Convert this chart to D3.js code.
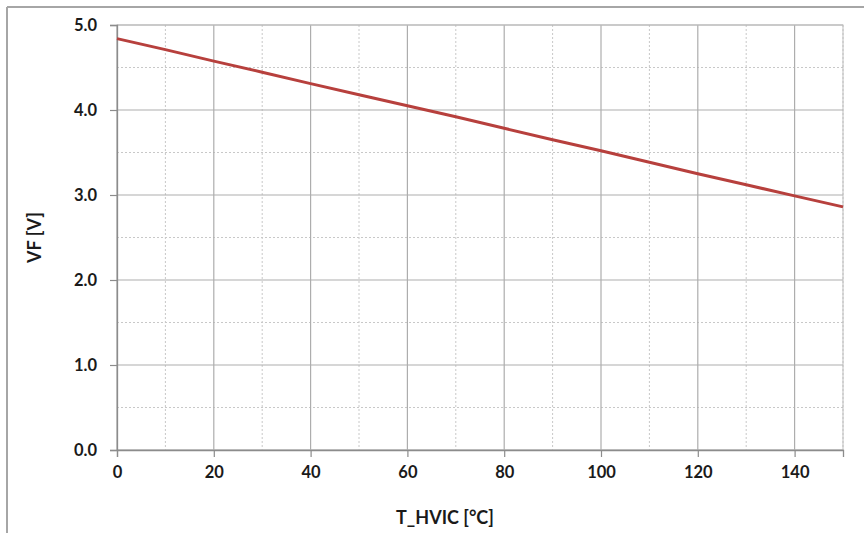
<!DOCTYPE html>
<html>
<head>
<meta charset="utf-8">
<script src="https://cdn.jsdelivr.net/npm/d3@7"></script>
<style>
  body { margin: 0; background: #fff; }
  svg { display: block; }
</style>
</head>
<body>
<svg id="chart"></svg>
<script>
const temps = [0, 10, 20, 30, 40, 50, 60, 70, 80, 90, 100, 110, 120, 130, 140, 150];
const vf = [4.84, 4.71, 4.575, 4.445, 4.31, 4.18, 4.05, 3.92, 3.785, 3.65, 3.52, 3.385, 3.25, 3.12, 2.99, 2.86];
const xTicks = [0, 20, 40, 60, 80, 100, 120, 140];
const xMinor = [10, 30, 50, 70, 90, 110, 130, 150];
const yTicks = [0, 1, 2, 3, 4, 5];
const yMinor = [0.5, 1.5, 2.5, 3.5, 4.5];

const W = 864, H = 533;
const margin = { top: 25, right: 21, bottom: 83, left: 117 };
const width = W - margin.left - margin.right;
const height = H - margin.top - margin.bottom;
const font = "Lato, 'Open Sans', sans-serif";

const svg = d3.select("#chart").attr("width", W).attr("height", H);

// outer frame
svg.append("line").attr("x1", 7).attr("x2", W).attr("y1", 7).attr("y2", 7)
  .attr("stroke", "#a6a6a6").attr("stroke-width", 2);
svg.append("line").attr("x1", 7).attr("x2", 7).attr("y1", 7).attr("y2", H)
  .attr("stroke", "#a6a6a6").attr("stroke-width", 2);

const g = svg.append("g").attr("transform", `translate(${margin.left},${margin.top})`);

const x = d3.scaleLinear().domain([0, 150]).range([0, width]);
const y = d3.scaleLinear().domain([0, 5]).range([height, 0]);

// minor grid (dotted)
g.selectAll(".minor-x").data(xMinor).enter().append("line")
  .attr("x1", d => x(d)).attr("x2", d => x(d)).attr("y1", 0).attr("y2", height)
  .attr("stroke", "#c8c8c8").attr("stroke-width", 1).attr("stroke-dasharray", "2,2");
g.selectAll(".minor-y").data(yMinor).enter().append("line")
  .attr("x1", 0).attr("x2", width).attr("y1", d => y(d)).attr("y2", d => y(d))
  .attr("stroke", "#c8c8c8").attr("stroke-width", 1).attr("stroke-dasharray", "2,2");

// major grid
g.selectAll(".major-x").data(xTicks).enter().append("line")
  .attr("x1", d => x(d)).attr("x2", d => x(d)).attr("y1", 0).attr("y2", height)
  .attr("stroke", "#adadad").attr("stroke-width", 1.2);
g.selectAll(".major-y").data(yTicks).enter().append("line")
  .attr("x1", 0).attr("x2", width).attr("y1", d => y(d)).attr("y2", d => y(d))
  .attr("stroke", "#adadad").attr("stroke-width", 1.2);

// plot border
g.append("rect").attr("width", width).attr("height", height)
  .attr("fill", "none").attr("stroke", "#bdbdbd").attr("stroke-width", 1);

// axes
const xAxis = g.append("g").attr("transform", `translate(0,${height})`)
  .call(d3.axisBottom(x).tickValues(xTicks).tickSize(7).tickPadding(9).tickFormat(d3.format("d")));
const yAxis = g.append("g")
  .call(d3.axisLeft(y).tickValues(yTicks).tickSize(7).tickPadding(13).tickFormat(d3.format(".1f")));

[xAxis, yAxis].forEach(a => {
  a.select(".domain").attr("stroke", "#8c8c8c").attr("stroke-width", 1.3);
  a.selectAll(".tick line").attr("stroke", "#8c8c8c").attr("stroke-width", 1.2);
  a.selectAll("text")
    .style("font-family", font)
    .style("font-weight", "bold")
    .style("font-size", "16.5px")
    .attr("fill", "#1a1a1a");
});
yAxis.selectAll("text").attr("dy", "0.35em");

// line
const line = d3.line().x((d, i) => x(temps[i])).y(d => y(d));
g.append("path").datum(vf)
  .attr("fill", "none")
  .attr("stroke", "#b7403d")
  .attr("stroke-width", 3)
  .attr("d", line);

// axis titles
svg.append("text")
  .attr("transform", `translate(41,${margin.top + height / 2}) rotate(-90)`)
  .attr("text-anchor", "middle")
  .style("font-family", font)
  .style("font-weight", "bold")
  .style("font-size", "18px")
  .attr("fill", "#1a1a1a")
  .text("VF [V]");

svg.append("text")
  .attr("x", 445)
  .attr("y", 524)
  .attr("text-anchor", "middle")
  .style("font-family", font)
  .style("font-weight", "bold")
  .style("font-size", "18px")
  .attr("fill", "#1a1a1a")
  .text("T_HVIC [°C]");
</script>
</body>
</html>
